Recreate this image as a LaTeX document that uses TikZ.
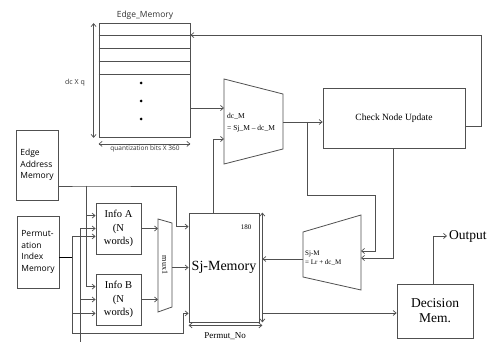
\documentclass[tikz,border=0pt]{standalone}
\usepackage{fontspec}
\setmainfont{Liberation Serif}
\setsansfont{Open Sans}
\usetikzlibrary{arrows.meta}
\definecolor{wire}{HTML}{505050}

\tikzset{
  blk/.style={rectangle,draw=wire,line width=0.8pt,inner sep=0pt,align=center},
  trap/.style={draw=wire,line width=0.8pt},
  arr/.style={-{Straight Barb[length=3pt,width=5pt]},draw=wire,line width=0.7pt},
  dblarr/.style={{Straight Barb[length=3pt,width=5pt]}-{Straight Barb[length=3pt,width=5pt]},draw=wire,line width=0.7pt},
  sflbl/.style={inner sep=1pt,font=\sffamily\fontsize{7}{8}\selectfont,text=black!80},
  sfbox/.style={blk,align=left,font=\sffamily\fontsize{8.5}{11.6}\selectfont},
  opfont/.style={inner sep=1pt,align=left,font=\fontsize{7.5}{9}\selectfont}
}

\begin{document}
\begin{tikzpicture}[x=1pt,y=-1pt]
\useasboundingbox[fill=white] (0,0) rectangle (501,342);
\node[blk,minimum width=91pt,minimum height=114pt] (em) at (144.5,80.5) {};
\node[sflbl,font=\sffamily\fontsize{8.5}{10}\selectfont] (emt) at (145,15) {Edge\_Memory};
\foreach \yy in {12,25,38,51} \draw[wire,line width=0.7pt] ([yshift=-\yy pt]em.north west) -- ([yshift=-\yy pt]em.north east);
\foreach \yy in {83,101,119} \fill[black] (141,\yy) circle[radius=1.5pt];
\draw[dblarr] ([xshift=-5pt]em.north west) -- ([xshift=-5pt]em.south west);
\node[sflbl] (emh) at (75,83) {dc X q};
\draw[dblarr] ([yshift=-6pt]em.south west) -- ([yshift=-6pt]em.south east);
\node[sflbl,font=\sffamily\fontsize{6.5}{8}\selectfont] (emw) at (145,149) {quantization bits X 360};

\node[blk,minimum width=142pt,minimum height=60pt,font=\fontsize{9.5}{11}\selectfont] (cnu) at (394,118) {Check Node Update};
\node[sfbox,minimum width=42pt,minimum height=70pt] (eam) at (37,165) {Edge\\Address\\Memory};
\node[sfbox,minimum width=42pt,minimum height=72pt] (pim) at (38,252) {Permut-\\ation\\Index\\Memory};
\node[blk,minimum width=45pt,minimum height=51pt,font=\fontsize{10.5}{13.5}\selectfont] (infoa) at (118.5,228.5) {Info A\\(N\\words)};
\node[blk,minimum width=45pt,minimum height=51pt,font=\fontsize{10.5}{13.5}\selectfont] (infob) at (118.5,299.5) {Info B\\(N\\words)};
\node[blk,minimum width=70pt,minimum height=109pt,font=\fontsize{14}{16}\selectfont] (sjm) at (224,267.5) {Sj-Memory};
\node[inner sep=0pt,font=\fontsize{7}{8}\selectfont] (sjmn) at (246,227) {180};
\draw[dblarr] ([xshift=3pt]sjm.north east) -- ([xshift=3pt]sjm.south east);
\draw[dblarr] ([yshift=-3pt]sjm.south west) -- ([yshift=-3pt,xshift=3pt]sjm.south east);
\node[inner sep=0pt,font=\fontsize{9}{10}\selectfont] (sjmp) at (225,336) {Permut\_No};
\node[blk,minimum width=76pt,minimum height=54pt,font=\fontsize{13.5}{15}\selectfont] (dec) at (435,311) {Decision\\Mem.};
\node[anchor=west,inner sep=2pt,font=\fontsize{13.5}{15}\selectfont] (out) at (447,236) {Output};

\draw[trap] (224,79) -- (283,94) -- (283,149) -- (224,164) -- cycle;
\node[opfont,anchor=west] (dcmt) at (226,123) {dc\_M\\[3pt]= Sj\_M -- dc\_M};
\draw[trap] (303,232) -- (361,215) -- (361,290) -- (303,277) -- cycle;
\node[opfont,anchor=west,font=\fontsize{7}{8.5}\selectfont] (sjtt) at (304,258) {Sj-M\\= Lr + dc\_M};
\draw[trap] (158,219) -- (172,223) -- (172,307) -- (158,312) -- cycle;
\node[inner sep=0pt,rotate=-90,font=\fontsize{8}{9}\selectfont] (muxt) at (165,265) {mux1};

\coordinate (dcm-in1) at (224,108);
\coordinate (dcm-in2) at (224,139);
\coordinate (dcm-out) at (283,122);
\coordinate (br) at (307,122);
\coordinate (sjt-in1) at (361,251);
\coordinate (sjt-in2) at (361,258);
\coordinate (sjt-out) at (303,259);
\coordinate (mux-w) at (158,265);
\coordinate (mux-e) at (172,267.5);
\coordinate (sjm-o2) at (262,313);
\coordinate (ja) at (86,186);
\coordinate (jb) at (80,342);
\coordinate (jc) at (72,257);

\draw[arr] ([yshift=-8pt]cnu.east) -- ++(16pt,0) |- ([yshift=-12pt]em.north east);
\draw[arr] (em.east |- dcm-in1) -- (dcm-in1);
\draw[arr] (dcm-out) -- (cnu.west |- dcm-out);
\draw[arr] (br) |- (375,195) |- (sjt-in1);
\draw[arr] ([xshift=-1pt]cnu.south) |- (sjt-in2);
\draw[arr] (sjt-out) -- ([xshift=3pt]sjm.east |- sjt-out);
\draw[arr] ([xshift=-11pt]sjm.north) |- (dcm-in2);
\draw[arr] (sjm-o2) -- (dec.west |- sjm-o2);
\draw[arr] ([xshift=-2pt]dec.north) |- (out.west);

\draw[arr] ([yshift=-21pt]eam.east) -- (ja) -- (176,186) |- ([yshift=-14pt]sjm.north west);
\draw[arr] (ja) |- ([yshift=-13pt]infoa.north west);
\draw[arr] (ja) |- ([yshift=-13pt]infob.north west);
\draw[arr] (jb) |- (infoa.west);
\draw[arr] (jb |- infob.west) -- (infob.west);
\draw ([yshift=-5pt]pim.east) -- (jc);
\draw[arr] (jc) |- ([yshift=18pt]infoa.south west);
\draw[arr] (jc) |- ([yshift=12pt]infob.south west);
\draw[arr] (jc) |- (183,333) |- ([yshift=9pt]sjm.south west);
\draw[arr] (infoa.east) -- (infoa.east -| mux-w);
\draw[arr] (infob.east) -- (infob.east -| mux-w);
\draw[arr] (mux-e) -- (sjm.west |- mux-e);
\end{tikzpicture}
\end{document}
